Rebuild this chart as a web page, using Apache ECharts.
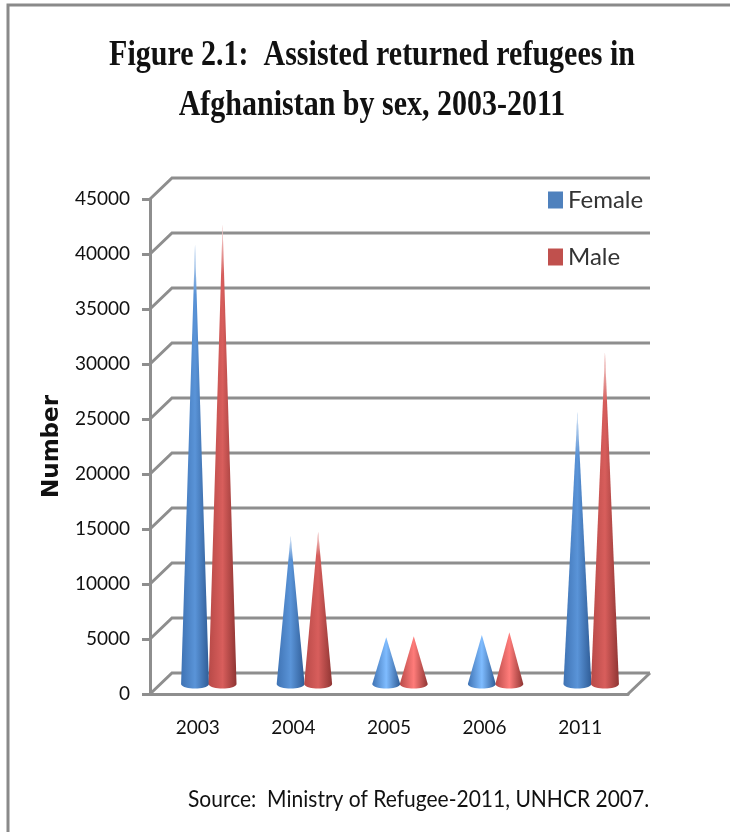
<!DOCTYPE html>
<html>
<head>
<meta charset="utf-8">
<style>html,body{margin:0;padding:0;background:#fff}#chart{width:730px;height:832px}</style>
<script src="https://cdn.jsdelivr.net/npm/echarts@6/dist/echarts.min.js"></script>
</head>
<body>
<div id="chart"></div>
<script>
const categories = ['2003', '2004', '2005', '2006', '2011'];
const femaleValues = [39900, 13400, 4200, 4400, 24700];
const maleValues = [41700, 13800, 4300, 4650, 30100];
const gridValues = [0, 5000, 10000, 15000, 20000, 25000, 30000, 35000, 40000, 45000];
const titleLines = ['Figure 2.1:  Assisted returned refugees in', 'Afghanistan by sex, 2003-2011'];
const sourceText = 'Source:  Ministry of Refugee-2011, UNHCR 2007.';

const DEPTH_X = 22, DEPTH_Y = 21;
const LINE = '#8e8e8e';
const LABEL_FONT = 'Lato,"Open Sans",sans-serif';

// Back wall rules and their diagonals running out of the front axis.
function renderWall(params, api) {
  const v = api.value(0);
  const p = api.coord([0, v]);
  const x0 = params.coordSys.x, x1 = x0 + params.coordSys.width;
  const children = [{
    type: 'polyline',
    shape: { points: [[x0, p[1]], [x0 + DEPTH_X, p[1] - DEPTH_Y], [x1 + DEPTH_X, p[1] - DEPTH_Y]] },
    style: { stroke: LINE, lineWidth: 3, fill: null }
  }];
  if (v === 0) {
    children.push({
      type: 'line',
      shape: { x1: x1, y1: p[1], x2: x1 + DEPTH_X, y2: p[1] - DEPTH_Y },
      style: { stroke: LINE, lineWidth: 3 }
    });
  }
  return { type: 'group', children };
}

// One shaded cone standing mid-way into the floor.
function coneRenderer(side, palette) {
  return function (params, api) {
    const idx = api.value(0);
    const val = api.value(1);
    const band = api.size([1, 0])[0];
    const halfW = band * 0.146;
    const base = api.coord([idx, 0]);
    const top = api.coord([idx, val]);
    const cx = base[0] + DEPTH_X / 2 + side * band * 0.144;
    const by = base[1] - DEPTH_Y / 2 + 0.5;
    const ty = top[1] - DEPTH_Y / 2;
    const ry = 4.5;
    const pts = [[cx, ty]];
    for (let a = 0; a <= 180; a += 10) {
      const r = a * Math.PI / 180;
      pts.push([cx + halfW * Math.cos(r), by + ry * Math.sin(r)]);
    }
    const small = val < 8000;
    const fill = {
      type: 'linear', x: 0, y: 0, x2: 1, y2: 0,
      colorStops: [
        { offset: 0, color: palette.edge },
        { offset: 0.5, color: small ? palette.bright : palette.mid },
        { offset: 1, color: palette.dark }
      ]
    };
    const children = [{ type: 'polygon', shape: { points: pts }, style: { fill } }];
    if (!small) {
      // The tall cones fade out towards the tip.
      const tipH = Math.min(50, (by - ty) * 0.16);
      const tw = halfW * tipH / (by - ty);
      children.push({
        type: 'polygon',
        shape: { points: [[cx, ty - 0.5], [cx + tw + 0.5, ty + tipH], [cx - tw - 0.5, ty + tipH]] },
        style: {
          fill: {
            type: 'linear', x: 0, y: 0, x2: 0, y2: 1,
            colorStops: [
              { offset: 0, color: 'rgba(255,255,255,0.8)' },
              { offset: 1, color: 'rgba(255,255,255,0)' }
            ]
          }
        }
      });
    }
    return { type: 'group', children };
  };
}

const bluePalette = { edge: '#3f73b4', mid: '#5a94d8', bright: '#7fbcff', dark: '#2f5c96' };
const redPalette = { edge: '#b84a48', mid: '#d85e5c', bright: '#ff7c7a', dark: '#8f3533' };

// Heading and source note are placed as stretched text blocks.
function stretchedText(text, x, y, align, font, sx, sy) {
  return {
    type: 'text',
    x: x, y: y, scaleX: sx, scaleY: sy,
    style: { text, font, fill: '#111', align, verticalAlign: 'middle' }
  };
}

const chart = echarts.init(document.getElementById('chart'), null, { renderer: 'canvas' });
chart.setOption({
  animation: false,
  backgroundColor: '#fff',
  legend: {
    data: ['Female', 'Male'],
    orient: 'vertical',
    left: 543, top: 183,
    icon: 'rect',
    itemWidth: 15, itemHeight: 17, itemGap: 33,
    selectedMode: false,
    textStyle: { fontFamily: LABEL_FONT, fontSize: 24, color: '#333' }
  },
  grid: { left: 150, top: 199, width: 478, height: 495 },
  xAxis: {
    type: 'category',
    data: categories,
    axisLine: { lineStyle: { color: LINE, width: 3 } },
    axisTick: { show: false },
    axisLabel: { margin: 24, fontFamily: LABEL_FONT, fontSize: 19, color: '#111' }
  },
  yAxis: {
    type: 'value',
    min: 0, max: 45000, interval: 5000,
    name: 'Number',
    nameLocation: 'middle',
    nameRotate: 90,
    nameGap: 80,
    nameTextStyle: { fontFamily: '"DejaVu Sans",sans-serif', fontSize: 23, fontWeight: 'bold', color: '#111' },
    axisLine: { show: true, lineStyle: { color: LINE, width: 3 } },
    axisTick: { show: true, length: 8, lineStyle: { color: LINE, width: 3 } },
    axisLabel: { margin: 20, fontFamily: LABEL_FONT, fontSize: 19, color: '#111', formatter: v => String(v) },
    splitLine: { show: false }
  },
  series: [{
    name: 'wall',
    type: 'custom',
    renderItem: renderWall,
    data: gridValues.map(v => [v]),
    encode: { y: 0 },
    z: 1,
    silent: true
  }, {
    name: 'Female',
    type: 'custom',
    renderItem: coneRenderer(-1, bluePalette),
    data: femaleValues.map((v, i) => [i, v]),
    encode: { x: 0, y: 1 },
    itemStyle: { color: '#4f81bd' },
    z: 3
  }, {
    name: 'Male',
    type: 'custom',
    renderItem: coneRenderer(1, redPalette),
    data: maleValues.map((v, i) => [i, v]),
    encode: { x: 0, y: 1 },
    itemStyle: { color: '#c0504d' },
    z: 4
  }],
  graphic: [{
    // Page frame along the top and left edges.
    type: 'polyline',
    shape: { points: [[730, 5], [8, 5], [8, 832]] },
    style: { stroke: '#8a8a8a', lineWidth: 3, fill: null }
  },
  stretchedText(titleLines[0], 372, 56, 'center', 'bold 30px "Liberation Serif",serif', 1, 1.22),
  stretchedText(titleLines[1], 372, 106, 'center', 'bold 30px "Liberation Serif",serif', 1, 1.22),
  stretchedText(sourceText, 188, 800, 'left', '22px Lato,sans-serif', 0.955, 1.05)
  ]
});
</script>
</body>
</html>
